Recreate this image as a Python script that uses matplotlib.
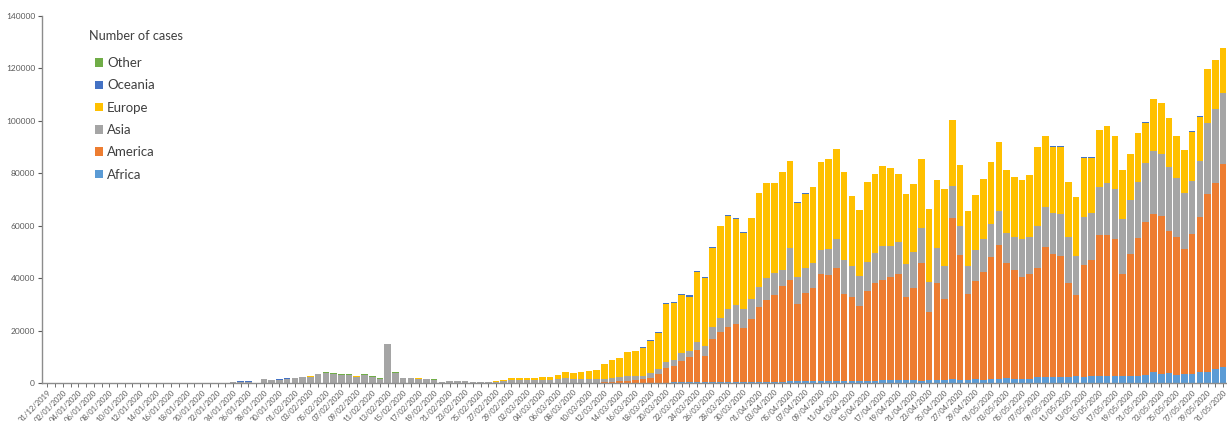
import numpy as np
import pandas as pd
import matplotlib
matplotlib.use("Agg")
import matplotlib.pyplot as plt

# daily reported cases by continent, 31/12/2019 .. 31/05/2020
dates = pd.date_range("2019-12-31", "2020-05-31", freq="D")
date_labels = list(dates.strftime("%d/%m/%Y"))

africa = [
    0, 0, 0, 0, 0, 0, 0, 0, 0, 0,
    0, 0, 0, 0, 0, 0, 0, 0, 0, 0,
    0, 0, 0, 0, 0, 0, 0, 0, 0, 0,
    0, 0, 0, 0, 0, 0, 0, 0, 0, 0,
    0, 0, 0, 0, 0, 0, 0, 0, 0, 0,
    0, 0, 0, 0, 0, 0, 0, 0, 0, 0,
    0, 0, 0, 0, 0, 0, 0, 0, 0, 0,
    5, 10, 10, 15, 20, 20, 30, 50, 60, 100,
    150, 200, 250, 250, 300, 300, 350, 400, 400, 400,
    450, 450, 500, 500, 550, 550, 600, 600, 600, 650,
    650, 700, 700, 700, 750, 800, 800, 900, 1000, 1000,
    1200, 1000, 1000, 900, 1100, 1000, 1300, 1400, 1000, 1300,
    1400, 1300, 1400, 1400, 1800, 1600, 1700, 1600, 2300, 2100,
    2400, 2200, 2300, 2500, 2400, 2500, 2600, 2500, 2600, 2700,
    2700, 2800, 3000, 4200, 3300, 3800, 3200, 3400, 3500, 4200,
    4300, 5500, 6000,
]

america = [
    0, 0, 0, 0, 0, 0, 0, 0, 0, 0,
    0, 0, 0, 0, 0, 0, 0, 0, 0, 0,
    0, 0, 0, 0, 0, 0, 0, 0, 0, 0,
    0, 0, 0, 0, 0, 0, 0, 0, 0, 0,
    0, 0, 0, 0, 0, 0, 0, 0, 0, 0,
    0, 0, 0, 0, 0, 0, 0, 0, 0, 0,
    0, 0, 0, 10, 20, 20, 30, 40, 50, 60,
    80, 120, 380, 500, 620, 740, 990, 1350, 1970, 3330,
    5450, 6300, 8150, 9540, 12290, 10000, 16440, 18930, 20840, 21990,
    20410, 23850, 28370, 31170, 33030, 36470, 38710, 29550, 33870, 35480,
    40820, 40510, 43310, 33260, 32200, 28580, 34430, 37130, 38310, 39580,
    40390, 31950, 35130, 44770, 26120, 37030, 30630, 61440, 47850, 32540,
    37520, 41190, 46550, 51260, 43870, 41520, 38620, 39990, 41460, 49670,
    46830, 46390, 35990, 31080, 42630, 44440, 53880, 53980, 52220, 38890,
    46530, 52660, 58570, 60290, 60550, 54330, 52390, 47610, 53230, 59270,
    67820, 70950, 77570,
]

asia = [
    27, 0, 0, 17, 0, 0, 0, 0, 0, 0,
    0, 0, 0, 0, 0, 0, 0, 0, 0, 0,
    60, 90, 100, 150, 200, 450, 450, 100, 1400, 1050,
    1300, 1600, 1800, 2200, 2450, 3250, 3900, 3600, 3000, 3100,
    2250, 3100, 2400, 1600, 14800, 3800, 2000, 1800, 1600, 1400,
    1150, 250, 750, 800, 650, 300, 300, 300, 500, 800,
    1150, 1020, 1020, 1150, 1020, 1020, 1500, 1750, 1500, 1400,
    1450, 1400, 1150, 1270, 1650, 1780, 1650, 1270, 1650, 1910,
    2400, 2280, 2920, 2550, 3180, 3820, 4710, 5350, 7000, 7380,
    7250, 7630, 7640, 8270, 8520, 6100, 12080, 10170, 9540, 9540,
    9280, 9800, 10940, 12980, 11570, 11580, 10820, 11450, 12970, 11700,
    12090, 12330, 13990, 13350, 11450, 13360, 12840, 12460, 11190, 10930,
    11830, 12460, 12720, 13100, 11700, 12470, 14500, 14000, 16150, 15260,
    15770, 15900, 17300, 14880, 18190, 18060, 18190, 19970, 19210, 20870,
    20600, 21370, 22510, 24040, 23540, 24420, 22770, 21370, 20480, 21250,
    26970, 27980, 26970,
]

europe = [
    0, 0, 0, 0, 0, 0, 0, 0, 0, 0,
    0, 0, 0, 0, 0, 0, 0, 0, 0, 0,
    0, 0, 0, 0, 0, 0, 0, 0, 250, 250,
    0, 0, 0, 0, 250, 250, 0, 0, 0, 0,
    250, 0, 0, 0, 200, 0, 0, 0, 200, 0,
    0, 0, 0, 0, 150, 0, 200, 200, 200, 400,
    880, 1010, 1010, 880, 1250, 1120, 1650, 2280, 2270, 2740,
    3170, 3300, 5850, 7000, 7350, 9200, 9450, 10800, 12500, 13700,
    22050, 21860, 22120, 20640, 26520, 25960, 30130, 35010, 35570, 32770,
    29130, 30860, 35870, 36260, 34150, 37330, 33300, 28470, 28220, 28900,
    33360, 34370, 34140, 33630, 26650, 25010, 30470, 30220, 30610, 29600,
    26040, 26810, 25660, 26430, 27570, 26060, 29110, 25040, 23130, 20970,
    20970, 22880, 23770, 26060, 23890, 23130, 22630, 23760, 30000, 27210,
    25170, 25680, 21220, 22630, 22750, 20970, 21860, 21600, 20210, 18800,
    17410, 18420, 15240, 19700, 19310, 18430, 15880, 16510, 18680, 16890,
    20710, 18810, 17150,
]

oceania = [
    0, 0, 0, 0, 0, 0, 0, 0, 0, 0,
    0, 0, 0, 0, 0, 0, 0, 0, 0, 0,
    0, 0, 0, 0, 0, 150, 150, 0, 0, 0,
    200, 200, 200, 200, 0, 0, 0, 0, 0, 0,
    0, 0, 0, 0, 0, 0, 0, 0, 0, 0,
    0, 0, 0, 100, 0, 0, 0, 0, 0, 0,
    0, 0, 0, 0, 0, 0, 0, 0, 0, 0,
    0, 0, 0, 0, 30, 90, 90, 140, 230, 290,
    350, 400, 400, 600, 450, 500, 400, 350, 300, 300,
    250, 300, 250, 250, 200, 200, 150, 150, 150, 100,
    100, 100, 80, 80, 60, 50, 50, 50, 40, 40,
    30, 30, 30, 30, 30, 20, 20, 20, 20, 20,
    20, 20, 20, 20, 20, 20, 20, 20, 20, 20,
    20, 20, 20, 20, 20, 20, 20, 20, 20, 20,
    20, 20, 20, 20, 20, 20, 20, 20, 20, 20,
    20, 20, 20,
]

other = [
    0, 0, 0, 0, 0, 0, 0, 0, 0, 0,
    0, 0, 0, 0, 0, 0, 0, 0, 0, 0,
    0, 0, 0, 0, 0, 0, 0, 0, 0, 0,
    0, 0, 0, 0, 0, 0, 300, 300, 300, 300,
    0, 300, 300, 300, 0, 400, 0, 0, 0, 250,
    250, 150, 150, 0, 0, 100, 0, 0, 150, 0,
    0, 0, 0, 0, 0, 0, 0, 0, 0, 0,
    0, 0, 0, 0, 0, 0, 0, 0, 0, 0,
    0, 0, 0, 0, 0, 0, 0, 0, 0, 0,
    0, 0, 0, 0, 0, 0, 0, 0, 0, 0,
    0, 0, 0, 0, 0, 0, 0, 0, 0, 0,
    0, 0, 0, 0, 0, 0, 0, 0, 0, 0,
    0, 0, 0, 0, 0, 0, 0, 0, 0, 0,
    0, 0, 0, 0, 0, 0, 0, 0, 0, 0,
    0, 0, 0, 0, 0, 0, 0, 0, 0, 0,
    0, 0, 0,
]

regions = ["Africa", "America", "Asia", "Europe", "Oceania", "Other"]
series = [africa, america, asia, europe, oceania, other]
colors = ["#5B9BD5", "#ED7D31", "#A5A5A5", "#FFC000", "#4472C4", "#70AD47"]

for s in series:
    assert len(s) == len(dates)

plt.rcParams["font.family"] = ["Lato", "DejaVu Sans"]

fig = plt.figure(figsize=(12.27, 4.21), dpi=100)
ax = fig.add_axes([0.0342, 0.0903, 0.9658, 0.872])

x = np.arange(len(dates))
bottom = np.zeros(len(dates))
handles = []
for name, vals, col in zip(regions, series, colors):
    vals = np.asarray(vals, dtype=float)
    bars = ax.bar(x, vals, width=0.85, bottom=bottom, color=col, linewidth=0, label=name)
    bottom += vals
    handles.append(bars)

ax.set_xlim(-0.7, len(dates) - 0.5)
ax.set_ylim(0, 140000)
ax.set_yticks(np.arange(0, 140001, 20000))
ax.tick_params(axis="y", labelsize=6, colors="#595959", length=3, width=0.8, pad=2)
ax.set_xticks(x)
ax.set_xticklabels([lbl if i % 2 == 0 else "" for i, lbl in enumerate(date_labels)],
                   rotation=45, ha="right", rotation_mode="anchor", fontsize=5.5)
ax.tick_params(axis="x", colors="#595959", length=3, width=0.6, pad=1)

for side in ("top", "right"):
    ax.spines[side].set_visible(False)
for side in ("left", "bottom"):
    ax.spines[side].set_color("#8C8C8C")
    ax.spines[side].set_linewidth(1.0)

# legend title sits left of the swatches, as in the source chart
fig.text(89 / 1227, 1 - 36 / 421, "Number of cases", fontsize=9.2,
         color="#404040", va="center", ha="left")
leg = ax.legend(handles[::-1], regions[::-1],
                loc="upper left", bbox_to_anchor=(0.0348, 0.92), frameon=False,
                fontsize=9.5, handlelength=0.6, handleheight=0.6,
                handletextpad=0.3, labelspacing=0.78)
for t in leg.get_texts():
    t.set_color("#404040")

fig.savefig("out.png", dpi=100)
